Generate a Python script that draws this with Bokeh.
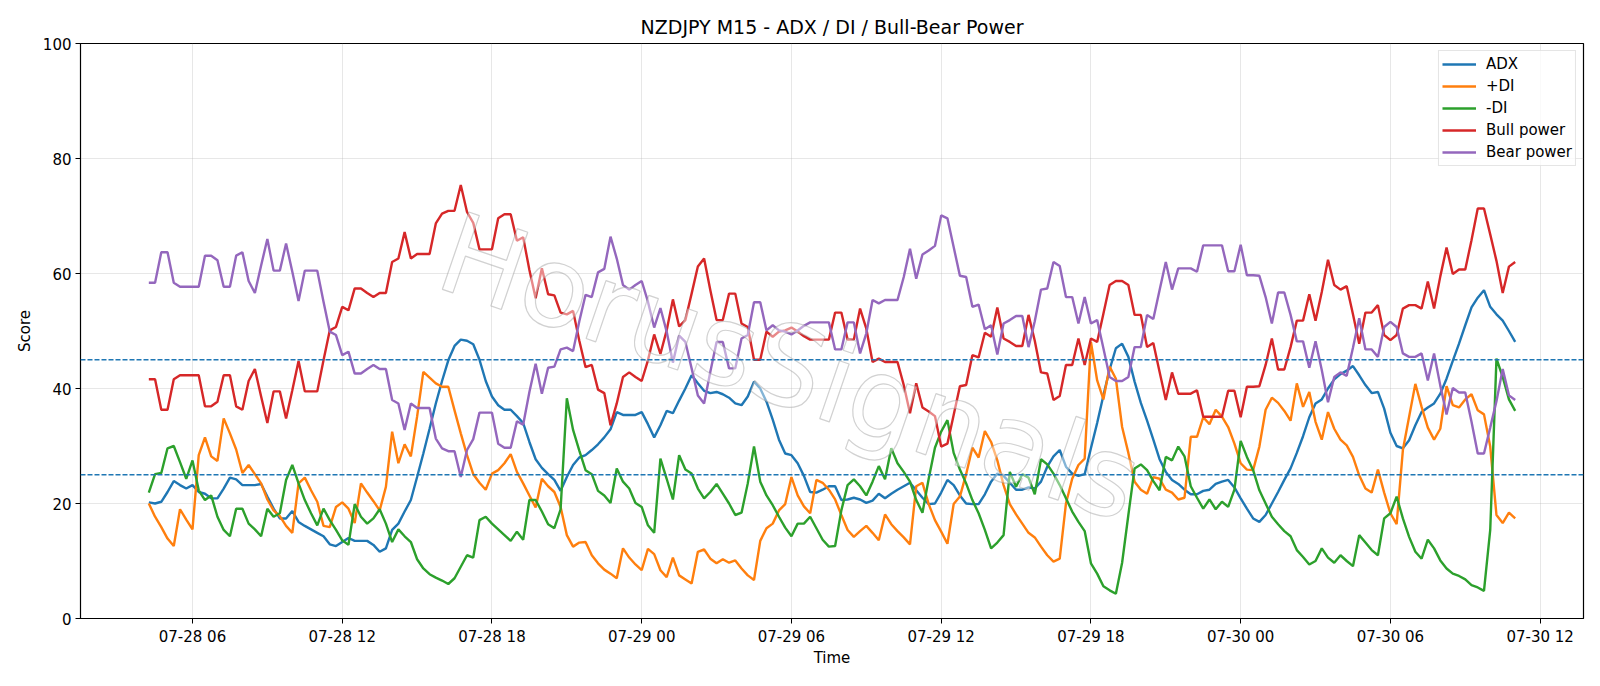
import pandas as pd
from bokeh.plotting import figure
from bokeh.models import Range1d, FixedTicker, DatetimeTickFormatter, Span, Legend
from bokeh.core.properties import value
from bokeh.embed import file_html
from bokeh.resources import INLINE

title_text = "NZDJPY M15 - ADX / DI / Bull-Bear Power"
start_time = "2025-07-28 04:15"
bar_freq = "15min"
tick_labels = ["07-28 06", "07-28 12", "07-28 18", "07-29 00", "07-29 06",
               "07-29 12", "07-29 18", "07-30 00", "07-30 06", "07-30 12"]
y_ticks = [0, 20, 40, 60, 80, 100]
levels = [25, 45]
watermark = "HorusSignals"

adx = [20.2, 20.0, 20.3, 22.0, 23.9, 23.2, 22.6, 23.2, 22.0, 21.7, 20.9, 20.9, 22.6, 24.5, 24.2, 23.2, 23.2, 23.2, 23.4, 21.2,
       19.1, 17.4, 17.4, 18.7, 16.8, 16.1, 15.5, 14.9, 14.3, 12.9, 12.6, 13.3, 14.0, 13.5, 13.5, 13.5, 12.8, 11.6,
       12.2, 15.4, 16.5, 18.6, 20.6, 24.6, 28.7, 33.0, 37.4, 41.3, 44.9, 47.4, 48.5, 48.3, 47.7, 45.0, 41.3, 38.6, 37.1,
       36.3, 36.3, 35.2, 34.0, 30.7, 27.7, 26.2, 25.1, 24.1, 22.2, 24.6, 26.7, 28.0, 28.4, 29.3, 30.3, 31.5, 32.9,
       35.9, 35.4, 35.4, 35.4, 35.9, 33.8, 31.5, 33.6, 36.1, 35.7, 37.9, 40.0, 42.3, 40.9, 39.6, 39.2, 39.4, 39.0,
       38.4, 37.4, 37.1, 38.6, 41.2, 40.0, 37.7, 34.6, 31.1, 28.7, 28.4, 27.0, 24.8, 22.0, 21.9, 22.4, 23.0, 23.0,
       20.6, 20.7, 21.0, 20.7, 20.1, 20.5, 21.7, 20.9, 21.7, 22.4, 23.0, 23.6, 22.3, 21.0, 19.9, 20.0, 21.9, 24.1,
       23.2, 21.4, 20.0, 19.9, 19.9, 21.6, 23.8, 25.2, 24.8, 23.6, 22.4, 22.4, 22.8, 22.6, 23.8, 26.4, 28.2, 29.3, 26.4,
       25.2, 24.8, 25.1, 29.6, 34.0, 38.8, 43.3, 47.0, 47.8, 45.5, 41.2, 37.5, 34.4, 31.1, 27.7, 25.5, 24.1, 23.4,
       22.4, 21.6, 21.6, 22.2, 22.4, 23.4, 23.8, 24.1, 22.8, 20.9, 19.1, 17.4, 16.8, 18.0, 20.0, 22.0, 24.1, 26.1, 28.8,
       31.7, 35.0, 37.4, 38.1, 40.0, 41.6, 42.5, 43.1, 43.9, 42.3, 40.6, 39.2, 39.4, 36.5, 32.3, 30.0, 29.6, 31.0,
       33.6, 35.9, 36.7, 37.4, 39.1, 41.7, 44.8, 47.8, 51.0, 54.1, 55.8, 57.1, 54.2, 52.9, 51.8, 50.0, 48.1]

plus_di = [20.0, 17.7, 15.9, 13.9, 12.6, 19.0, 17.2, 15.5, 28.4, 31.5, 28.2, 27.4, 34.8, 32.2, 29.4, 25.3, 26.7, 25.1, 23.5,
           20.7, 18.8, 17.8, 16.1, 14.9, 23.5, 24.5, 22.3, 20.3, 16.1, 15.9, 19.4, 20.2, 19.1, 16.6, 23.5, 21.9, 20.4, 18.8,
           22.9, 32.5, 27.0, 30.3, 28.2, 35.1, 42.9, 41.9, 40.9, 40.3, 40.3, 36.2, 32.2, 28.4, 25.1, 23.6, 22.4, 25.2,
           25.8, 27.0, 28.6, 25.5, 23.5, 21.4, 19.3, 24.3, 23.0, 22.0, 19.4, 14.5, 12.5, 13.2, 13.3, 11.0, 9.6, 8.5, 7.8,
           7.0, 12.2, 10.6, 9.4, 8.4, 12.1, 11.2, 8.4, 7.2, 10.6, 7.5, 6.8, 6.1, 11.6, 12.0, 10.4, 9.6, 10.3, 9.7, 10.1,
           8.7, 7.5, 6.7, 13.5, 15.7, 16.5, 18.8, 19.9, 24.6, 21.4, 19.5, 18.3, 24.1, 23.6, 22.4, 20.7,
           18.0, 15.4, 14.2, 15.2, 16.1, 14.9, 13.6, 18.1, 16.4, 15.2, 14.1, 12.9, 23.0, 23.6, 19.9, 17.1, 15.1, 13.0,
           19.9, 21.2, 25.1, 29.7, 28.0, 32.6, 30.7, 27.5, 23.2, 19.9, 18.1, 16.5, 14.9, 14.1, 12.5, 11.0, 9.9, 10.4, 20.0,
           24.3, 26.7, 27.8, 48.1, 41.4, 38.1, 43.8, 41.7, 33.3, 28.8, 23.8, 22.4, 21.7, 24.6, 24.3, 22.4, 21.9, 20.7,
           21.0, 31.6, 31.6, 35.0, 33.8, 36.3, 35.1, 33.3, 30.4, 27.0, 25.9, 25.8, 29.9, 36.3, 38.4, 37.5, 36.1, 34.4, 40.9,
           36.8, 39.4, 34.2, 31.1, 35.9, 33.0, 31.1, 30.1, 28.1, 24.9, 22.6, 21.9, 25.9, 21.9, 18.3, 16.4, 29.3, 35.1,
           40.8, 36.8, 33.2, 31.1, 33.0, 40.4, 37.1, 36.7, 38.1, 39.0, 36.2, 35.5, 29.9, 18.0, 16.6, 18.4, 17.4]

minus_di = [21.9, 25.1, 25.3, 29.6, 30.0, 27.2, 24.3, 27.5, 22.3, 20.6, 21.4, 17.7, 15.4, 14.3, 19.1, 19.1, 16.5, 15.5, 14.3,
            19.1, 17.7, 18.3, 24.1, 26.7, 23.5, 20.6, 18.3, 16.2, 19.1, 17.1, 15.4, 13.6, 12.8, 19.9, 17.7, 16.5, 17.4, 19.0,
            16.5, 13.3, 15.5, 14.3, 13.3, 10.3, 8.7, 7.7, 7.1, 6.6, 6.0, 7.0, 9.0, 11.0, 10.6, 17.1, 17.7, 16.5, 15.5,
            14.5, 13.5, 15.1, 13.7, 20.6, 20.6, 18.6, 16.4, 15.7, 19.0, 38.3, 32.8, 29.2, 25.8, 25.1, 22.2, 21.4, 20.1,
            26.1, 23.8, 22.6, 20.1, 19.4, 16.2, 14.9, 27.8, 24.3, 20.7, 28.4, 25.9, 25.2, 22.6, 20.9, 22.0, 23.4, 21.7,
            20.0, 18.0, 18.4, 23.5, 29.9, 23.8, 21.4, 19.7, 17.7, 15.8, 14.3, 16.5, 16.5, 17.7, 15.7, 13.7, 12.5, 12.6,
            18.8, 23.2, 24.2, 23.0, 21.4, 23.8, 26.5, 24.2, 29.6, 27.0, 25.5, 23.8, 20.6, 18.4, 24.3, 29.7, 32.5, 34.5,
            28.8, 25.9, 23.5, 20.6, 18.3, 15.4, 12.2, 13.2, 14.5, 25.5, 22.9, 25.1, 24.5, 21.6, 27.7, 26.8, 25.2, 23.2, 20.9,
            18.6, 16.8, 15.2, 9.6, 7.8, 5.6, 4.9, 4.3, 9.7, 18.0, 26.1, 26.8, 25.8, 23.9, 22.3, 28.1, 27.5, 29.9,
            28.2, 23.0, 21.0, 19.1, 20.7, 19.0, 20.3, 19.4, 22.4, 30.9, 28.1, 25.8, 22.3, 20.0, 17.7, 16.4, 15.2, 14.3, 11.9,
            10.7, 9.4, 10.0, 12.2, 10.6, 9.7, 11.0, 10.0, 9.1, 14.5, 13.2, 11.9, 11.0, 17.4, 18.3, 21.2, 17.4, 14.2,
            11.6, 10.4, 13.7, 12.2, 10.1, 8.7, 7.8, 7.4, 6.8, 5.8, 5.4, 4.8, 15.4, 45.2, 42.0, 38.1, 36.1]

bull_power = [41.6, 41.6, 36.3, 36.3, 41.6, 42.3, 42.3, 42.3, 42.3, 36.9, 36.9, 37.7, 42.3, 42.3, 36.9, 36.3, 41.3, 43.4, 38.6,
              34.0, 39.5, 39.5, 34.8, 39.7, 44.8, 39.5, 39.5, 39.5, 44.9, 50.1, 50.7, 54.2, 53.6, 57.4, 57.4, 56.6, 55.9, 56.6,
              56.6, 62.0, 62.6, 67.2, 62.6, 63.4, 63.4, 63.4, 68.7, 70.4, 70.9, 70.9, 75.4, 70.7, 68.8, 64.2, 64.2, 64.2,
              69.6, 70.3, 70.3, 65.7, 66.3, 60.6, 55.7, 60.9, 56.4, 56.2, 53.2, 52.9, 53.5, 48.3, 43.7, 44.1, 39.8, 39.2, 33.6,
              37.4, 42.0, 42.8, 42.0, 41.3, 44.9, 49.4, 46.0, 50.1, 55.5, 50.8, 51.9, 56.5, 61.2, 62.6, 57.1, 51.9, 51.9,
              56.5, 56.5, 51.3, 50.7, 45.0, 45.0, 49.9, 49.0, 49.9, 50.1, 50.6, 49.9, 49.1, 48.5, 48.5, 48.5, 48.5, 53.2,
              53.2, 48.5, 48.5, 53.9, 50.4, 44.6, 45.2, 44.6, 44.6, 44.6, 40.6, 35.7, 40.9, 36.7, 36.0, 35.2, 29.9, 30.4,
              35.4, 40.4, 40.6, 45.8, 45.4, 49.7, 49.0, 54.1, 48.7, 48.1, 47.4, 47.4, 52.8, 48.3, 42.8, 42.6, 38.0, 38.7, 44.1,
              44.1, 48.7, 44.1, 48.7, 48.1, 53.0, 58.0, 58.7, 58.7, 58.0, 52.8, 52.8, 47.2, 47.9, 42.9, 38.0, 42.8, 39.1,
              39.1, 39.1, 39.7, 35.1, 35.1, 35.1, 35.1, 39.6, 39.6, 35.0, 40.3, 40.3, 40.4, 44.1, 48.7, 43.3, 43.3, 47.2, 51.8,
              51.8, 56.4, 51.8, 56.8, 62.4, 58.0, 57.2, 57.8, 52.9, 47.8, 53.2, 53.2, 54.5, 49.3, 48.4, 49.3, 53.9, 54.5,
              54.5, 53.9, 58.6, 53.9, 59.5, 64.5, 59.9, 60.7, 60.7, 65.8, 71.3, 71.3, 66.8, 62.2, 56.6, 61.2, 62.0]

bear_power = [58.4, 58.4, 63.7, 63.7, 58.4, 57.7, 57.7, 57.7, 57.7, 63.1, 63.1, 62.3, 57.7, 57.7, 63.1, 63.7, 58.7, 56.6, 61.4,
              66.0, 60.5, 60.5, 65.2, 60.3, 55.2, 60.5, 60.5, 60.5, 55.1, 49.9, 49.3, 45.8, 46.4, 42.6, 42.6, 43.4, 44.1, 43.4,
              43.4, 38.0, 37.4, 32.8, 37.4, 36.6, 36.6, 36.6, 31.3, 29.6, 29.1, 29.1, 24.6, 29.3, 31.2, 35.8, 35.8, 35.8,
              30.4, 29.7, 29.7, 34.3, 33.7, 39.4, 44.3, 39.1, 43.6, 43.8, 46.8, 47.1, 46.5, 51.7, 56.3, 55.9, 60.2, 60.8, 66.4,
              62.6, 58.0, 57.2, 58.0, 58.7, 55.1, 50.6, 54.0, 49.9, 44.5, 49.2, 48.1, 43.5, 38.8, 37.4, 42.9, 48.1, 48.1,
              43.5, 43.5, 48.7, 49.3, 55.0, 55.0, 50.1, 51.0, 50.1, 49.9, 49.4, 50.1, 50.9, 51.5, 51.5, 51.5, 51.5, 46.8,
              46.8, 51.5, 51.5, 46.1, 49.6, 55.4, 54.8, 55.4, 55.4, 55.4, 59.4, 64.3, 59.1, 63.3, 64.0, 64.8, 70.1, 69.6,
              64.6, 59.6, 59.4, 54.2, 54.6, 50.3, 51.0, 45.9, 51.3, 51.9, 52.6, 52.6, 47.2, 51.7, 57.2, 57.4, 62.0, 61.3, 55.9,
              55.9, 51.3, 55.9, 51.3, 51.9, 47.0, 42.0, 41.3, 41.3, 42.0, 47.2, 47.2, 52.8, 52.1, 57.1, 62.0, 57.2, 60.9,
              60.9, 60.9, 60.3, 64.9, 64.9, 64.9, 64.9, 60.4, 60.4, 65.0, 59.7, 59.7, 59.6, 55.9, 51.3, 56.7, 56.7, 52.8, 48.2,
              48.2, 43.6, 48.2, 43.2, 37.6, 42.0, 42.8, 42.2, 47.1, 52.2, 46.8, 46.8, 45.5, 50.7, 51.6, 50.7, 46.1, 45.5,
              45.5, 46.1, 41.4, 46.1, 40.5, 35.5, 40.1, 39.3, 39.3, 34.2, 28.7, 28.7, 33.2, 37.8, 43.4, 38.8, 38.0]

series = [("ADX", adx, "#1f77b4"), ("+DI", plus_di, "#ff7f0e"), ("-DI", minus_di, "#2ca02c"),
          ("Bull power", bull_power, "#d62728"), ("Bear power", bear_power, "#9467bd")]

lens = [len(s[1]) for s in series]
if len(set(lens)) != 1:
    raise ValueError("length mismatch: %s" % lens)

times = pd.date_range(start_time, periods=len(adx), freq=bar_freq)
t0, t1 = times[0], times[-1]
span = t1 - t0
x_start = t0 - span * 0.05
x_end = t1 + span * 0.05

tick_times = [pd.Timestamp("2025-" + lbl[:5] + " " + lbl[6:] + ":00") for lbl in tick_labels]
tick_ms = [t.value / 1e6 for t in tick_times]

FONT = "DejaVu Sans"

p = figure(width=1600, height=686, x_axis_type="datetime", output_backend="svg", toolbar_location=None,
           x_range=Range1d(x_start, x_end), y_range=Range1d(0, 100),
           min_border_left=80, min_border_right=17, min_border_top=43, min_border_bottom=68)

p.title.text = title_text
p.title.align = "center"
p.title.text_font = FONT
p.title.text_font_size = "19px"
p.title.text_font_style = "normal"
p.title.text_color = "black"
p.title.standoff = 12

p.outline_line_color = "black"
p.outline_line_width = 1.2
p.outline_line_alpha = 1.0

p.xaxis.ticker = FixedTicker(ticks=tick_ms)
p.xaxis.formatter = DatetimeTickFormatter(hours="%m-%d %H", days="%m-%d %H", hourmin="%m-%d %H",
                                          months="%m-%d %H", minutes="%m-%d %H")
p.yaxis.ticker = FixedTicker(ticks=y_ticks)
for ax in (p.xaxis, p.yaxis):
    ax.major_label_text_font = FONT
    ax.major_label_text_font_size = "15px"
    ax.major_label_text_color = "black"
    ax.axis_label_text_font = FONT
    ax.axis_label_text_font_size = "15px"
    ax.axis_label_text_font_style = "normal"
    ax.axis_label_text_color = "black"
    ax.minor_tick_line_color = None
    ax.major_tick_out = 5
    ax.major_tick_in = 0
    ax.major_tick_line_color = "black"
    ax.axis_line_color = "black"
    ax.major_label_standoff = 4
p.xaxis.axis_label = "Time"
p.yaxis.axis_label = "Score"
p.xaxis.axis_label_standoff = 0
p.yaxis.axis_label_standoff = 6

p.xgrid.grid_line_color = "#b0b0b0"
p.xgrid.grid_line_alpha = 0.3
p.ygrid.grid_line_color = "#b0b0b0"
p.ygrid.grid_line_alpha = 0.3

for lvl in levels:
    p.add_layout(Span(location=lvl, dimension="width", line_color="#1f77b4",
                      line_dash="5 2", line_width=1.5))

items = []
for name, vals, color in series:
    r = p.line(times, vals, line_color=color, line_width=2.4)
    items.append((name, [r]))

legend = Legend(items=items, location="top_right")
legend.label_text_font = FONT
legend.label_text_font_size = "15px"
legend.label_text_color = "black"
legend.border_line_color = "#cccccc"
legend.border_line_width = 1
legend.background_fill_alpha = 0.8
legend.glyph_width = 34
legend.glyph_height = 20
legend.label_height = 20
legend.spacing = 2
legend.padding = 3
legend.margin = 7
legend.label_standoff = 10
p.add_layout(legend)

wm_x = t0 + pd.Timedelta(minutes=int(25.7 * 60))
p.text(x=[wm_x], y=[43.7], text=[watermark], angle=-0.33, text_align="center", text_baseline="middle",
       text_font=value(FONT), text_font_size="112px", text_color="white", text_alpha=0.45,
       text_outline_color="#999999")

open("out.html", "w").write(file_html(p, INLINE))
